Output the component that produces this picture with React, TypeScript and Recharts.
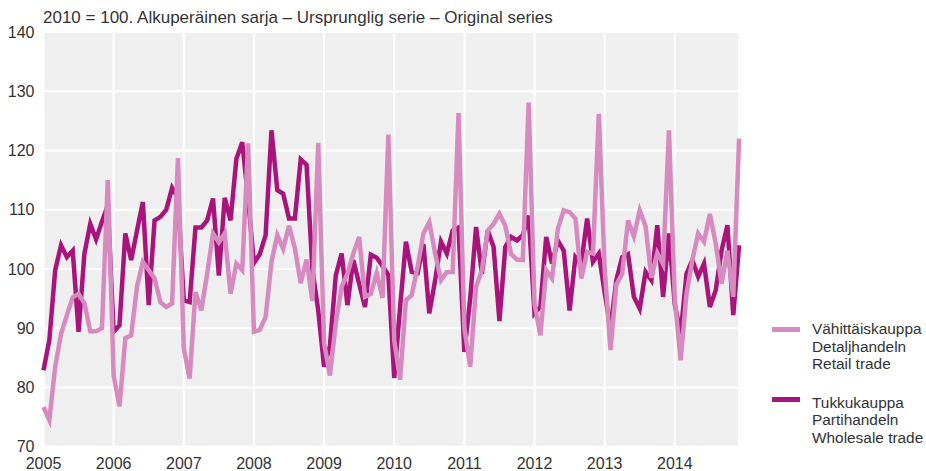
import React from "react";
import { LineChart, Line, XAxis, YAxis, CartesianGrid, Legend } from "recharts";

const years = [2005, 2006, 2007, 2008, 2009, 2010, 2011, 2012, 2013, 2014];
const monthNumbers = ["01", "02", "03", "04", "05", "06", "07", "08", "09", "10", "11", "12"];
const months = years.flatMap((y) => monthNumbers.map((m) => `${y}-${m}`));
const yearTicks = years.map((y) => `${y}-01`);
const valueTicks = [70, 80, 90, 100, 110, 120, 130, 140];

const titleText = "2010 = 100. Alkuperäinen sarja – Ursprunglig serie – Original series";

const retailTrade = [
  76.7, 74.5, 83.5, 89.0, 92.2, 95.2, 95.8, 94.2, 89.5, 89.5, 90.0, 115.0,
  82.0, 76.8, 88.3, 88.8, 97.0, 101.2, 99.8, 98.4, 94.4, 93.6, 94.2, 118.7,
  86.6, 81.5, 96.1, 93.0, 99.2, 106.0, 104.5, 106.0, 95.8, 100.9, 99.8, 121.2,
  89.4, 89.7, 91.9, 101.2, 105.7, 103.4, 107.3, 103.5, 97.6, 101.6, 94.6, 121.3,
  87.5, 82.0, 90.8, 97.0, 99.2, 102.6, 105.4, 95.3, 95.8, 99.3, 95.1, 122.7,
  88.0, 81.3, 94.7, 95.6, 100.4, 106.0, 107.9, 102.6, 98.1, 99.5, 99.5, 126.3,
  90.0, 83.5, 97.0, 99.8, 106.5, 107.6, 109.3, 107.3, 102.5, 101.6, 101.5, 128.1,
  94.2, 88.8, 99.8, 98.4, 106.8, 109.9, 109.6, 108.5, 98.4, 102.9, 102.6, 126.2,
  100.0, 86.3, 97.4, 99.2, 108.2, 105.5, 109.9, 107.2, 98.5, 102.7, 100.8, 123.4,
  95.0, 84.6, 95.8, 101.5, 106.0, 104.6, 109.3, 104.3, 97.5, 103.1, 95.3, 122.0,
];

const wholesaleTrade = [
  82.9, 88.0, 99.8, 104.0, 102.0, 103.1, 89.4, 102.6, 107.6, 105.0, 108.0, 110.7,
  89.4, 90.5, 106.0, 101.5, 106.5, 111.3, 93.9, 108.2, 108.8, 110.0, 113.7, 112.0,
  94.7, 94.4, 107.0, 107.0, 108.2, 111.9, 98.9, 112.0, 108.2, 118.6, 121.4, 112.0,
  101.0, 102.5, 105.7, 123.4, 113.3, 112.7, 108.5, 108.5, 118.5, 117.6, 100.0, 93.0,
  83.5, 87.0, 98.9, 102.6, 93.9, 101.5, 97.5, 93.6, 102.4, 101.9, 100.5, 99.0,
  81.6, 93.5, 104.6, 99.5, 99.3, 104.2, 92.5, 98.1, 104.6, 102.6, 106.5, 107.0,
  86.0, 95.0, 107.1, 99.2, 106.5, 103.7, 91.2, 103.7, 105.4, 104.8, 105.7, 109.0,
  92.5, 93.6, 105.4, 100.9, 104.8, 103.1, 93.0, 102.0, 100.9, 108.5, 101.2, 102.6,
  96.0, 90.0, 98.1, 102.0, 102.5, 95.3, 93.3, 99.5, 98.1, 107.4, 95.3, 106.0,
  94.0, 89.0, 99.2, 101.5, 98.7, 100.9, 93.6, 96.4, 103.1, 107.4, 92.2, 104.0,
];

const retailName = ["Vähittäiskauppa", "Detaljhandeln", "Retail trade"];
const wholesaleName = ["Tukkukauppa", "Partihandeln", "Wholesale trade"];

const RETAIL_COLOR = "#d68ac0";
const WHOLESALE_COLOR = "#a8147c";
const FONT = "'Liberation Sans', Arial, sans-serif";
const TEXT_COLOR = "#333333";

const data = months.map((m, i) => ({
  month: m,
  retail: retailTrade[i],
  wholesale: wholesaleTrade[i],
}));

const legendItems = [
  { lines: retailName, color: RETAIL_COLOR, swatchTop: 7, gap: 0 },
  { lines: wholesaleName, color: WHOLESALE_COLOR, swatchTop: 3, gap: 21 },
];

function LegendContent() {
  return (
    <div style={{ fontFamily: FONT, fontSize: 15.4, color: TEXT_COLOR }}>
      {legendItems.map((item, idx) => (
        <div key={idx} style={{ display: "flex", marginTop: item.gap }}>
          <div
            style={{
              width: 28,
              height: 5,
              background: item.color,
              marginTop: item.swatchTop,
              marginRight: 12,
              flex: "none",
            }}
          />
          <div style={{ lineHeight: "17.5px", whiteSpace: "nowrap" }}>
            {item.lines.map((l, j) => (
              <div key={j}>{l}</div>
            ))}
          </div>
        </div>
      ))}
    </div>
  );
}

export default function App() {
  return (
    <div style={{ position: "absolute", left: 0, top: 0, width: 926, height: 471, background: "#ffffff", overflow: "hidden" }}>
      <div
        style={{
          position: "absolute",
          left: 43,
          top: 8,
          fontFamily: FONT,
          fontSize: 17,
          color: TEXT_COLOR,
          whiteSpace: "nowrap",
          zIndex: 2,
        }}
      >
        {titleText}
      </div>
      <LineChart
        width={926}
        height={471}
        data={data}
        margin={{ top: 32, right: 186.9, bottom: 0.3, left: 3.5 }}
      >
        <CartesianGrid fill="#efefef" stroke="#ffffff" strokeWidth={2} />
        <XAxis
          dataKey="month"
          ticks={yearTicks}
          interval={0}
          tickFormatter={(v: string) => v.slice(0, 4)}
          tickLine={false}
          axisLine={false}
          height={24}
          tickMargin={5}
          tick={{ fontFamily: FONT, fontSize: 16, fill: TEXT_COLOR }}
        />
        <YAxis
          domain={[70, 140]}
          ticks={valueTicks}
          interval={0}
          tickLine={false}
          axisLine={false}
          width={40}
          tickMargin={3}
          tick={{ fontFamily: FONT, fontSize: 16, fill: TEXT_COLOR }}
        />
        <Legend
          layout="vertical"
          align="center"
          verticalAlign="middle"
          content={() => <LegendContent />}
          wrapperStyle={{ position: "absolute", left: 772, top: 320, width: 154 }}
        />
        <Line
          type="linear"
          dataKey="wholesale"
          name={wholesaleName.join(" ")}
          stroke={WHOLESALE_COLOR}
          strokeWidth={4.5}
          dot={false}
          activeDot={false}
          isAnimationActive={false}
        />
        <Line
          type="linear"
          dataKey="retail"
          name={retailName.join(" ")}
          stroke={RETAIL_COLOR}
          strokeWidth={4.5}
          dot={false}
          activeDot={false}
          isAnimationActive={false}
        />
      </LineChart>
    </div>
  );
}
